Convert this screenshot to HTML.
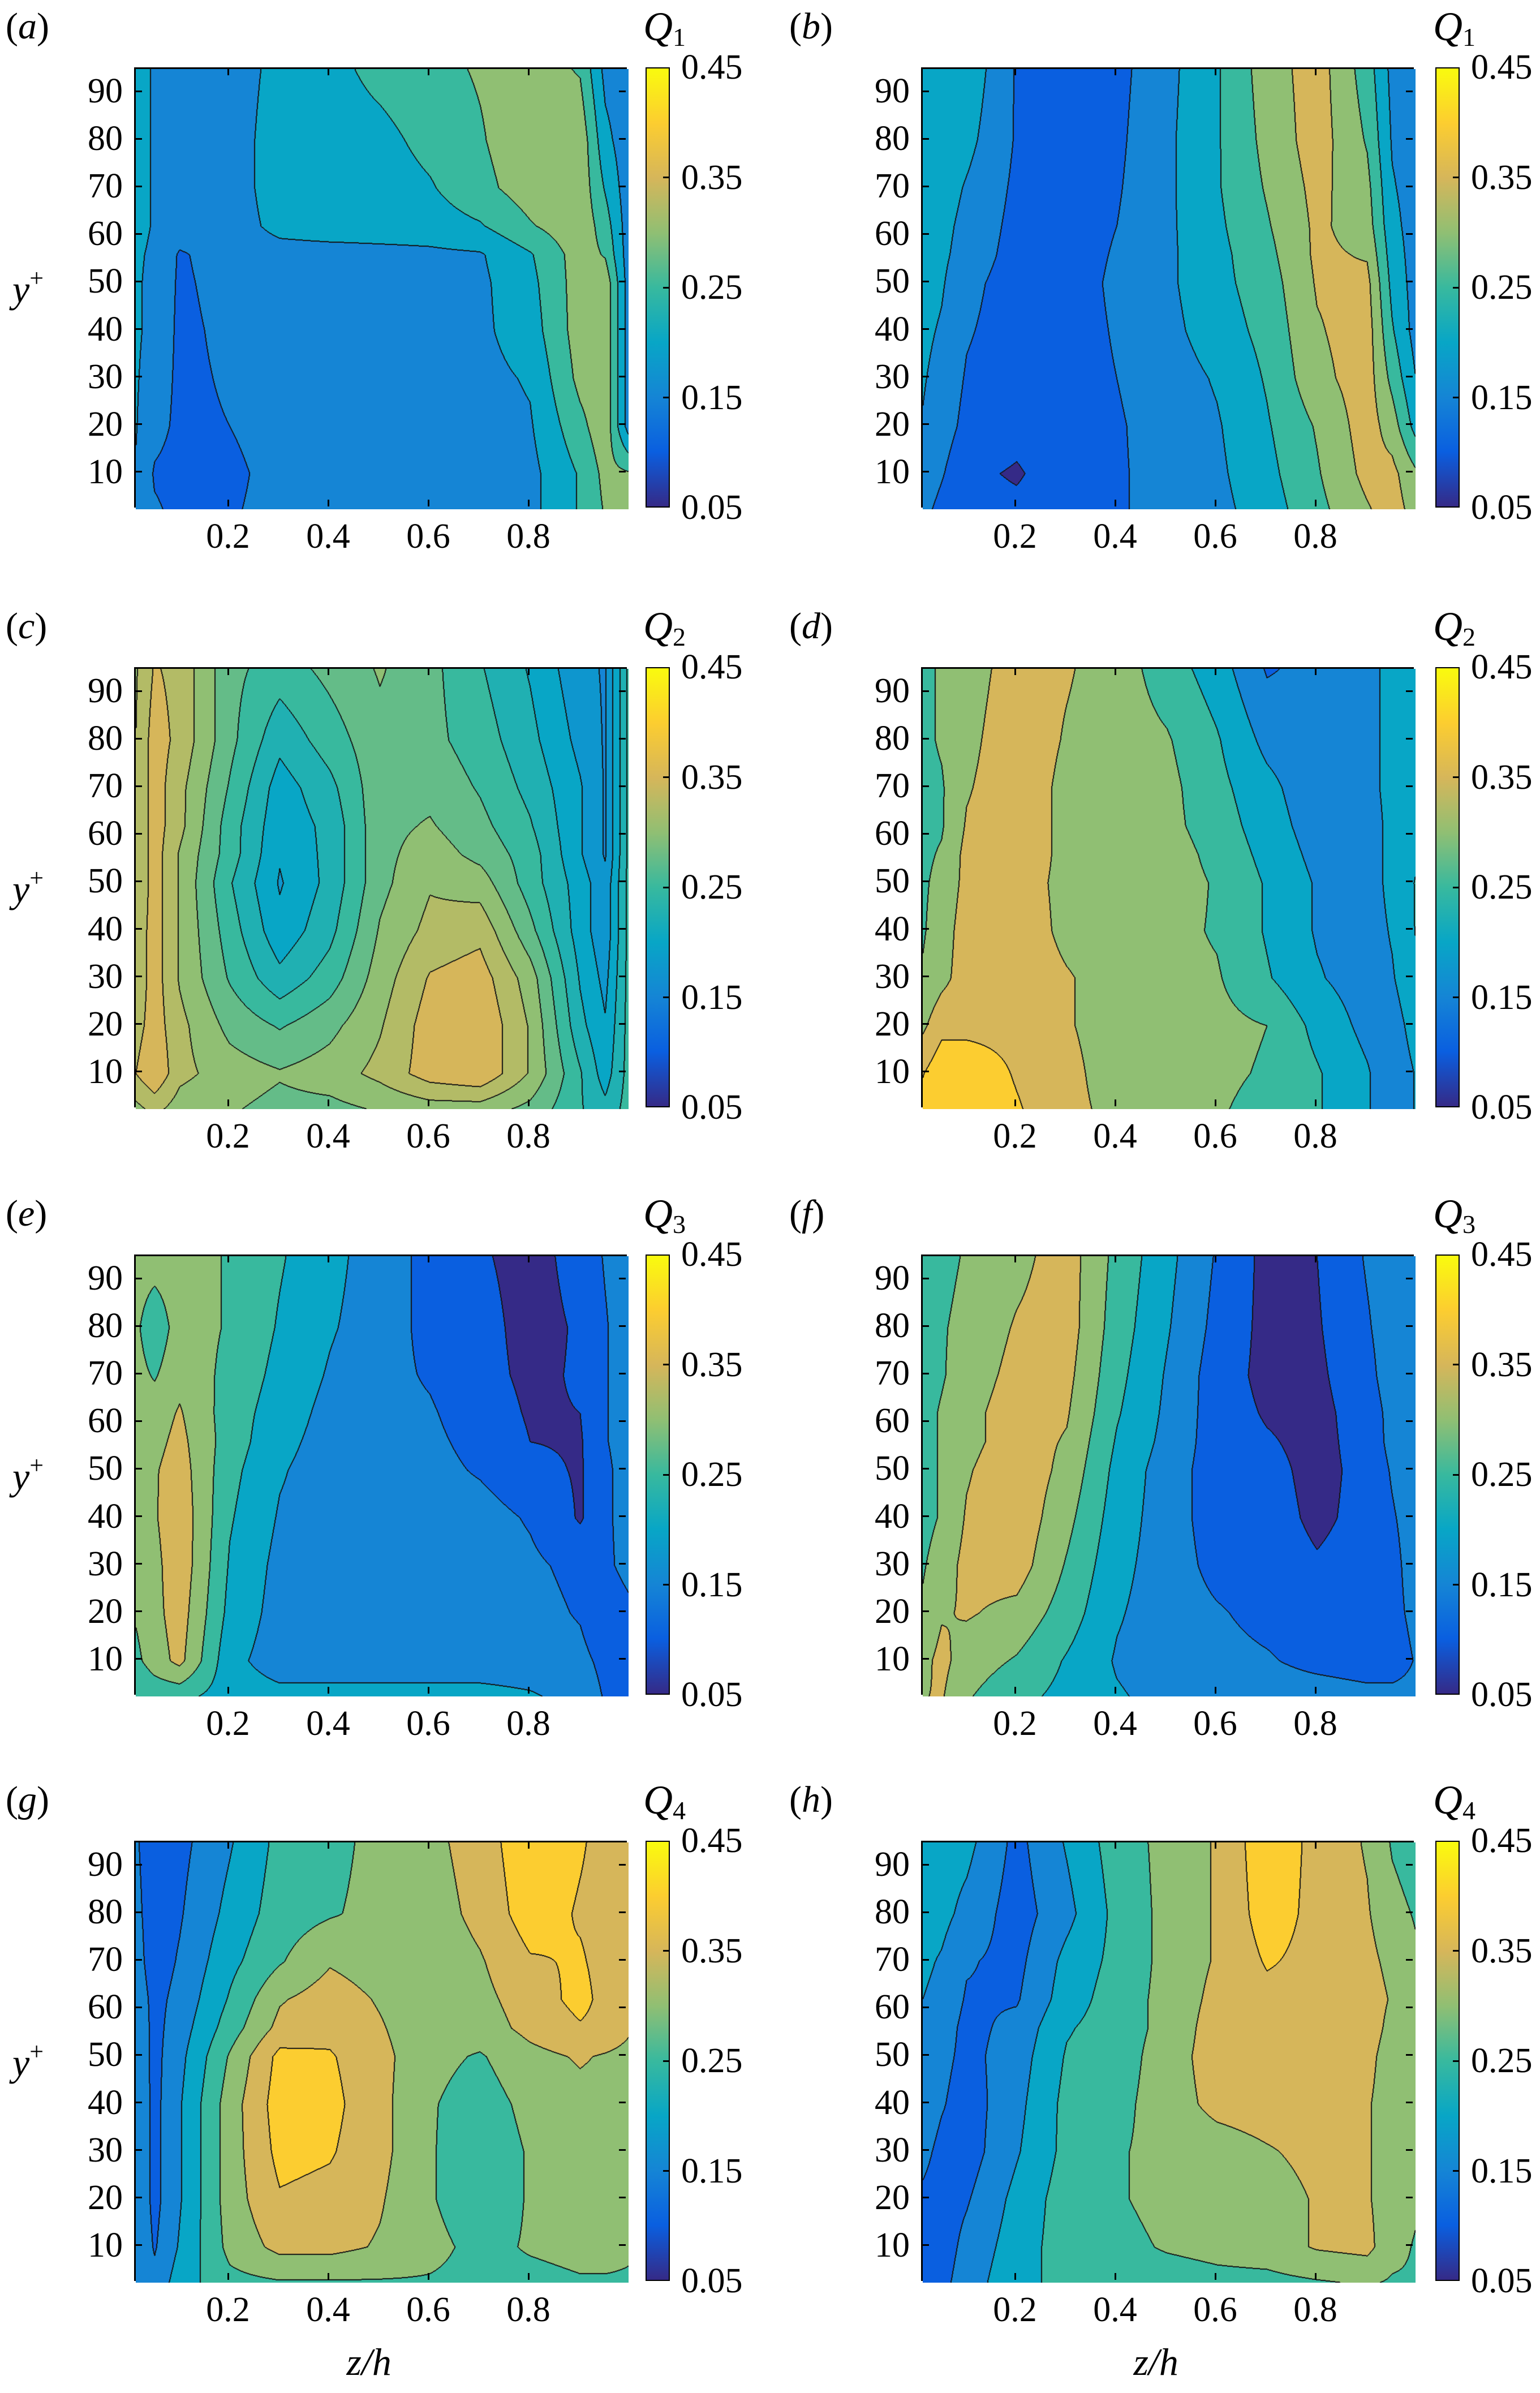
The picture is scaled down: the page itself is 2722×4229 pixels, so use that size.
<!DOCTYPE html>
<html><head><meta charset="utf-8">
<style>
html,body{margin:0;padding:0;background:#fff;}
body{width:2722px;height:4229px;position:relative;overflow:hidden;font-family:"Liberation Serif",serif;color:#000;}
.plot{position:absolute;border:3px solid #000;box-sizing:border-box;}
.plot canvas{position:absolute;left:0;top:0;}
.tick{position:absolute;background:#000;}
.tl{position:absolute;font-size:62px;line-height:62px;white-space:nowrap;font-family:"Liberation Serif",serif;}
.cbar{position:absolute;border:2px solid #000;box-sizing:border-box;}
.plab{position:absolute;font-size:66px;line-height:66px;font-family:"Liberation Serif",serif;}
.qlab{position:absolute;font-size:72px;line-height:72px;font-style:italic;font-family:"Liberation Serif",serif;}
.qlab sub{font-style:normal;font-size:46px;vertical-align:-10px;}
.ylab{position:absolute;font-size:68px;line-height:68px;font-style:italic;font-family:"Liberation Serif",serif;}
.ylab sup{font-style:normal;font-size:44px;vertical-align:28px;}
</style></head>
<body>
<div id="root"></div>
<script>
// ---- shared axes data ----
const zNodes=[0,0.05,0.1,0.2,0.3,0.4,0.5,0.6,0.7,0.8,0.9,0.95,1.0];
const yNodes=[2.5,10,20,30,40,50,56,62,70,80,95];
const xTicks=[0.2,0.4,0.6,0.8];
const yTicks=[10,20,30,40,50,60,70,80,90];
const cbTicks=[0.05,0.15,0.25,0.35,0.45];
const panelLetters=["a","b","c","d","e","f","g","h"];
const panelQ=["1","1","2","2","3","3","4","4"];
const panelStep=[0.05,0.05,0.025,0.05,0.05,0.05,0.05,0.05];
// ---- field values, rows bottom (y=2.5) to top (y=95) ----
const gridA=[
[0.16,0.13,0.115,0.12,0.14,0.15,0.15,0.15,0.15,0.16,0.23,0.28,0.30],
[0.19,0.12,0.11,0.115,0.14,0.15,0.15,0.15,0.15,0.16,0.23,0.29,0.28],
[0.19,0.14,0.115,0.125,0.145,0.15,0.15,0.15,0.155,0.17,0.26,0.31,0.14],
[0.19,0.15,0.115,0.13,0.15,0.15,0.15,0.155,0.16,0.18,0.29,0.31,0.14],
[0.19,0.16,0.115,0.135,0.15,0.15,0.15,0.155,0.165,0.20,0.30,0.31,0.14],
[0.19,0.16,0.118,0.14,0.15,0.15,0.15,0.16,0.165,0.21,0.30,0.31,0.14],
[0.19,0.165,0.12,0.145,0.155,0.155,0.16,0.165,0.17,0.22,0.30,0.27,0.14],
[0.20,0.17,0.15,0.15,0.19,0.2,0.2,0.2,0.22,0.27,0.31,0.25,0.14],
[0.20,0.17,0.15,0.15,0.2,0.2,0.2,0.22,0.26,0.30,0.31,0.22,0.14],
[0.20,0.17,0.15,0.15,0.2,0.2,0.21,0.24,0.27,0.31,0.31,0.19,0.14],
[0.20,0.17,0.15,0.15,0.19,0.21,0.24,0.26,0.28,0.30,0.27,0.16,0.14]];
const gridB=[
[0.15,0.11,0.09,0.085,0.10,0.12,0.14,0.16,0.20,0.26,0.32,0.35,0.30],
[0.17,0.13,0.085,0.07,0.10,0.12,0.14,0.165,0.21,0.27,0.34,0.34,0.28],
[0.18,0.15,0.11,0.09,0.10,0.12,0.145,0.17,0.22,0.28,0.35,0.30,0.20],
[0.185,0.16,0.12,0.095,0.10,0.125,0.15,0.18,0.23,0.31,0.35,0.26,0.17],
[0.19,0.17,0.13,0.10,0.10,0.13,0.16,0.20,0.24,0.32,0.35,0.23,0.15],
[0.2,0.18,0.14,0.10,0.10,0.135,0.165,0.21,0.25,0.33,0.34,0.21,0.15],
[0.2,0.185,0.155,0.105,0.10,0.13,0.165,0.21,0.26,0.335,0.32,0.20,0.15],
[0.2,0.19,0.16,0.11,0.10,0.125,0.165,0.215,0.27,0.335,0.30,0.19,0.15],
[0.2,0.2,0.17,0.115,0.10,0.12,0.165,0.22,0.28,0.34,0.29,0.18,0.15],
[0.21,0.21,0.19,0.12,0.105,0.115,0.165,0.22,0.29,0.35,0.27,0.17,0.15],
[0.21,0.22,0.21,0.12,0.11,0.11,0.16,0.22,0.30,0.35,0.25,0.16,0.15]];
const gridC=[
[0.30,0.32,0.30,0.29,0.28,0.28,0.29,0.30,0.30,0.28,0.24,0.22,0.25],
[0.33,0.36,0.32,0.30,0.29,0.30,0.32,0.35,0.36,0.31,0.24,0.2,0.25],
[0.32,0.35,0.32,0.28,0.26,0.28,0.31,0.35,0.36,0.31,0.22,0.19,0.25],
[0.31,0.35,0.31,0.26,0.22,0.25,0.30,0.34,0.35,0.30,0.21,0.18,0.25],
[0.31,0.35,0.31,0.25,0.195,0.23,0.29,0.32,0.33,0.27,0.2,0.17,0.25],
[0.30,0.35,0.31,0.24,0.185,0.22,0.28,0.31,0.30,0.25,0.2,0.17,0.25],
[0.30,0.35,0.31,0.25,0.19,0.22,0.28,0.30,0.28,0.25,0.19,0.16,0.25],
[0.30,0.35,0.32,0.25,0.195,0.22,0.28,0.29,0.27,0.24,0.19,0.16,0.25],
[0.30,0.35,0.32,0.26,0.20,0.23,0.28,0.28,0.26,0.23,0.19,0.16,0.25],
[0.30,0.35,0.33,0.27,0.22,0.25,0.28,0.27,0.25,0.22,0.18,0.16,0.25],
[0.30,0.34,0.33,0.27,0.25,0.27,0.29,0.27,0.24,0.21,0.17,0.16,0.25]];
const gridD=[
[0.38,0.42,0.42,0.38,0.34,0.31,0.29,0.28,0.26,0.23,0.18,0.14,0.18],
[0.36,0.41,0.41,0.37,0.34,0.30,0.29,0.285,0.27,0.23,0.18,0.14,0.18],
[0.30,0.36,0.36,0.36,0.33,0.30,0.29,0.29,0.275,0.21,0.16,0.15,0.2],
[0.27,0.31,0.35,0.36,0.33,0.30,0.29,0.28,0.23,0.18,0.15,0.17,0.22],
[0.26,0.30,0.35,0.36,0.31,0.30,0.29,0.27,0.22,0.17,0.15,0.18,0.23],
[0.26,0.29,0.34,0.35,0.31,0.30,0.30,0.27,0.22,0.17,0.15,0.19,0.23],
[0.26,0.28,0.34,0.36,0.31,0.30,0.30,0.26,0.21,0.16,0.15,0.19,0.22],
[0.26,0.27,0.33,0.36,0.31,0.30,0.29,0.25,0.20,0.15,0.15,0.19,0.22],
[0.26,0.27,0.32,0.36,0.31,0.30,0.29,0.24,0.19,0.14,0.16,0.19,0.22],
[0.26,0.28,0.31,0.36,0.32,0.30,0.28,0.23,0.16,0.14,0.16,0.19,0.21],
[0.26,0.28,0.30,0.35,0.33,0.30,0.25,0.20,0.12,0.14,0.16,0.19,0.21]];
const gridE=[
[0.22,0.24,0.24,0.2,0.19,0.19,0.19,0.19,0.19,0.18,0.16,0.12,0.12],
[0.25,0.30,0.34,0.19,0.15,0.15,0.15,0.15,0.15,0.15,0.14,0.11,0.10],
[0.27,0.31,0.35,0.21,0.155,0.15,0.15,0.15,0.15,0.145,0.12,0.08,0.11],
[0.28,0.31,0.36,0.22,0.16,0.15,0.15,0.15,0.15,0.135,0.11,0.11,0.15],
[0.29,0.32,0.36,0.23,0.17,0.15,0.15,0.15,0.145,0.12,0.07,0.11,0.16],
[0.30,0.32,0.35,0.24,0.18,0.15,0.15,0.14,0.12,0.09,0.07,0.11,0.16],
[0.30,0.31,0.34,0.25,0.19,0.155,0.14,0.135,0.11,0.075,0.07,0.12,0.16],
[0.30,0.30,0.33,0.25,0.20,0.16,0.14,0.13,0.10,0.07,0.075,0.12,0.16],
[0.30,0.27,0.31,0.26,0.21,0.17,0.14,0.12,0.09,0.065,0.08,0.12,0.16],
[0.30,0.24,0.30,0.27,0.22,0.18,0.15,0.11,0.09,0.06,0.08,0.12,0.16],
[0.30,0.30,0.30,0.27,0.23,0.19,0.15,0.11,0.08,0.06,0.09,0.13,0.16]];
const gridF=[
[0.32,0.33,0.28,0.24,0.21,0.18,0.16,0.155,0.15,0.15,0.14,0.14,0.14],
[0.30,0.34,0.30,0.27,0.22,0.17,0.15,0.14,0.13,0.11,0.10,0.10,0.13],
[0.27,0.32,0.33,0.31,0.25,0.18,0.15,0.13,0.11,0.10,0.10,0.11,0.14],
[0.26,0.30,0.34,0.35,0.27,0.19,0.15,0.11,0.10,0.08,0.095,0.11,0.15],
[0.25,0.28,0.33,0.36,0.29,0.20,0.15,0.10,0.095,0.065,0.09,0.12,0.15],
[0.25,0.28,0.32,0.36,0.31,0.21,0.15,0.10,0.09,0.06,0.09,0.13,0.16],
[0.25,0.28,0.31,0.35,0.32,0.22,0.16,0.10,0.08,0.06,0.095,0.14,0.16],
[0.25,0.28,0.31,0.35,0.33,0.23,0.165,0.10,0.07,0.06,0.10,0.14,0.16],
[0.25,0.27,0.30,0.34,0.34,0.24,0.17,0.10,0.06,0.065,0.11,0.15,0.16],
[0.25,0.27,0.29,0.33,0.35,0.25,0.18,0.11,0.06,0.07,0.12,0.15,0.16],
[0.25,0.26,0.28,0.31,0.35,0.26,0.19,0.12,0.06,0.075,0.13,0.15,0.16]];
const gridG=[
[0.18,0.14,0.2,0.26,0.27,0.27,0.27,0.27,0.26,0.26,0.27,0.27,0.27],
[0.19,0.12,0.18,0.29,0.34,0.34,0.32,0.29,0.26,0.28,0.29,0.29,0.28],
[0.19,0.11,0.17,0.30,0.37,0.36,0.33,0.28,0.24,0.28,0.30,0.30,0.29],
[0.19,0.11,0.17,0.30,0.39,0.38,0.34,0.28,0.24,0.28,0.30,0.30,0.30],
[0.19,0.11,0.17,0.30,0.40,0.39,0.34,0.28,0.25,0.29,0.31,0.31,0.30],
[0.18,0.11,0.16,0.28,0.39,0.38,0.34,0.29,0.27,0.31,0.33,0.32,0.31],
[0.18,0.11,0.15,0.25,0.34,0.36,0.33,0.29,0.30,0.34,0.37,0.36,0.33],
[0.17,0.11,0.14,0.23,0.32,0.35,0.32,0.29,0.31,0.35,0.39,0.36,0.34],
[0.16,0.10,0.13,0.21,0.27,0.32,0.30,0.29,0.32,0.37,0.38,0.36,0.35],
[0.15,0.10,0.12,0.19,0.25,0.27,0.29,0.30,0.34,0.40,0.37,0.36,0.35],
[0.14,0.10,0.11,0.17,0.24,0.26,0.29,0.31,0.35,0.41,0.38,0.36,0.35]];
const gridH=[
[0.10,0.11,0.15,0.21,0.24,0.25,0.25,0.26,0.26,0.27,0.28,0.27,0.27],
[0.10,0.10,0.14,0.20,0.25,0.26,0.28,0.29,0.30,0.33,0.34,0.29,0.27],
[0.12,0.10,0.12,0.19,0.25,0.27,0.29,0.30,0.30,0.33,0.33,0.30,0.28],
[0.15,0.11,0.10,0.17,0.24,0.27,0.29,0.30,0.32,0.34,0.33,0.30,0.28],
[0.17,0.13,0.10,0.16,0.24,0.26,0.30,0.34,0.35,0.35,0.33,0.30,0.28],
[0.18,0.14,0.11,0.15,0.23,0.25,0.30,0.35,0.36,0.36,0.34,0.30,0.28],
[0.18,0.15,0.11,0.14,0.22,0.25,0.29,0.35,0.36,0.36,0.35,0.31,0.28],
[0.18,0.16,0.12,0.12,0.20,0.25,0.29,0.34,0.36,0.36,0.35,0.32,0.29],
[0.19,0.17,0.13,0.11,0.19,0.24,0.29,0.33,0.38,0.36,0.34,0.31,0.28],
[0.20,0.19,0.16,0.10,0.16,0.24,0.29,0.33,0.40,0.36,0.33,0.29,0.27],
[0.20,0.20,0.19,0.11,0.18,0.25,0.29,0.33,0.41,0.36,0.32,0.27,0.25]];
const grids=[gridA,gridB,gridC,gridD,gridE,gridF,gridG,gridH];

// ---- layout ----
const colX=[237,1628], plotW=871, plotH=778;
const rowY=[119,1179,2217,3253];
const cbX=[1141,2537], cbW=43;
const zMin=0.0124,zMax=0.9966,yMin=2.5,yMax=95,cMin=0.05,cMax=0.45;
const pal=[[0.05,[53,42,135]],[0.10,[10,95,224]],[0.15,[21,133,213]],[0.20,[8,166,198]],[0.25,[56,185,158]],[0.30,[144,191,115]],[0.35,[214,182,90]],[0.40,[252,205,48]],[0.45,[249,251,14]]];
function colorOf(v){
  if(v<=pal[0][0])return pal[0][1];
  for(let i=0;i<pal.length-1;i++){if(v<=pal[i+1][0]){const t=(v-pal[i][0])/(pal[i+1][0]-pal[i][0]);return pal[i][1].map((c,k)=>Math.round(c+(pal[i+1][1][k]-c)*t));}}
  return pal[pal.length-1][1];
}
function idx(arr,v){for(let i=0;i<arr.length-2;i++){if(v<arr[i+1])return i;}return arr.length-2;}
function sample(g,z,y){
  const i=idx(zNodes,z),j=idx(yNodes,y);
  const tx=Math.max(0,Math.min(1,(z-zNodes[i])/(zNodes[i+1]-zNodes[i])));
  const ty=Math.max(0,Math.min(1,(y-yNodes[j])/(yNodes[j+1]-yNodes[j])));
  return g[j][i]*(1-tx)*(1-ty)+g[j][i+1]*tx*(1-ty)+g[j+1][i]*(1-tx)*ty+g[j+1][i+1]*tx*ty;
}
const root=document.getElementById('root');
function mk(cls,name,left,top,w,h){
  const d=document.createElement('div');d.className=cls;
  
  
  d.style.left=left+'px';d.style.top=top+'px';
  if(w!=null)d.style.width=w+'px';if(h!=null)d.style.height=h+'px';
  root.appendChild(d);return d;
}
for(let p=0;p<8;p++){
  const col=p%2,row=Math.floor(p/2);
  const px=colX[col],py=rowY[row];
  const g=grids[p],step=panelStep[p];
  const plot=mk('plot','contour-plot-'+panelLetters[p],px,py,plotW,plotH);
  const cv=document.createElement('canvas');
  
  
  cv.width=plotW;cv.height=plotH;plot.appendChild(cv);
  const ctx=cv.getContext('2d');const im=ctx.createImageData(plotW,plotH);
  const band=new Int16Array(plotW*plotH);
  for(let yy=0;yy<plotH;yy++){const yv=yMax-(yy+0.5)/plotH*(yMax-yMin);
    for(let xx=0;xx<plotW;xx++){const zv=zMin+(xx+0.5)/plotW*(zMax-zMin);
      band[yy*plotW+xx]=Math.round(sample(g,zv,yv)/step);}}
  for(let yy=0;yy<plotH;yy++)for(let xx=0;xx<plotW;xx++){
    const k=yy*plotW+xx,b=band[k];let edge=false;
    if(xx+1<plotW&&band[k+1]!==b)edge=true;
    if(xx>0&&band[k-1]!==b)edge=true;
    if(yy+1<plotH&&band[k+plotW]!==b)edge=true;
    if(yy>0&&band[k-plotW]!==b)edge=true;
    const c=edge?[20,20,20]:colorOf(b*step);
    im.data[4*k]=c[0];im.data[4*k+1]=c[1];im.data[4*k+2]=c[2];im.data[4*k+3]=255;}
  ctx.putImageData(im,0,0);
  xTicks.forEach(t=>{const x=px+(t-zMin)/(zMax-zMin)*plotW;
    mk('tick','x-tick',x-1.5,py+plotH-14,3,12);mk('tick','x-tick-top',x-1.5,py+2,3,12);
    const l=mk('tl','x-tick-label',x-45,py+plotH+20,90,null);l.style.textAlign='center';l.textContent=t.toFixed(1);});
  yTicks.forEach(t=>{const y=py+(yMax-t)/(yMax-yMin)*plotH;
    mk('tick','y-tick',px+2,y-1.5,12,3);mk('tick','y-tick-right',px+plotW-14,y-1.5,12,3);
    const l=mk('tl','y-tick-label',px-120,y-31,100,null);l.style.textAlign='right';l.textContent=String(t);});
  const cb=mk('cbar','colorbar-'+panelLetters[p],cbX[col],py,cbW,plotH);
  cb.style.background='linear-gradient(to top,'+pal.map(e=>'rgb('+e[1].join(',')+') '+((e[0]-cMin)/(cMax-cMin)*100)+'%').join(',')+')';
  cbTicks.forEach(t=>{const y=py+(cMax-t)/(cMax-cMin)*plotH;
    if(t>cMin&&t<cMax)mk('tick','colorbar-tick',cbX[col]+cbW-12,y-1.5,10,3);
    const l=mk('tl','colorbar-tick-label',cbX[col]+cbW+20,y-31,null,null);l.textContent=t.toFixed(2);});
  const pl=mk('plab','panel-label-'+panelLetters[p],col?1395:10,py-105,null,null);
  pl.innerHTML='(<i>'+panelLetters[p]+'</i>)';
  const ql=mk('qlab','colorbar-title-'+panelLetters[p],cbX[col]-4,py-108,null,null);
  ql.innerHTML='Q<sub>'+panelQ[p]+'</sub>';
  if(col===0){const yl=mk('ylab','y-axis-title',22,py+plotH/2-50,null,null);yl.innerHTML='y<sup>+</sup>';}
  if(row===3){const zl=mk('ylab','x-axis-title',px+plotW/2-60,4140,null,null);zl.innerHTML='z/h';}
}
</script>
</body></html>
